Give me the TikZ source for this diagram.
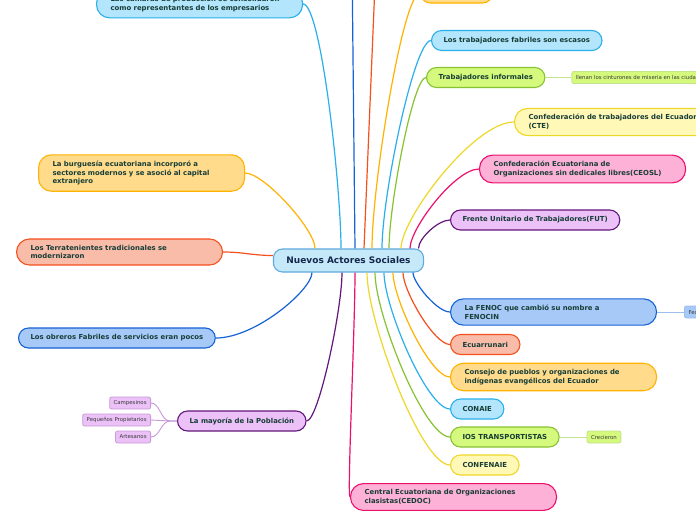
\documentclass[tikz,border=0pt]{standalone}
\usepackage{fontspec}
\setmainfont{DejaVu Sans}
\usetikzlibrary{positioning}

\definecolor{ink}{HTML}{173D36}
\definecolor{leafink}{HTML}{3B3B3B}
\definecolor{hubink}{HTML}{14284B}
\definecolor{hubfill}{HTML}{C6E9FA}
\definecolor{hubline}{HTML}{5EAADD}
\definecolor{skyfill}{HTML}{B3E5FC}
\definecolor{skyline}{HTML}{29B0EC}
\definecolor{bluefill}{HTML}{A7C9F8}
\definecolor{blueline}{HTML}{1562D6}
\definecolor{orangefill}{HTML}{FFDB8B}
\definecolor{orangeline}{HTML}{FFB300}
\definecolor{redfill}{HTML}{F8BCA9}
\definecolor{redline}{HTML}{F4511E}
\definecolor{greenfill}{HTML}{D5F97C}
\definecolor{greenline}{HTML}{86C232}
\definecolor{yellowfill}{HTML}{FFF8B6}
\definecolor{yellowline}{HTML}{EFD728}
\definecolor{pinkfill}{HTML}{FDB1D6}
\definecolor{pinkline}{HTML}{EC0F6E}
\definecolor{purplefill}{HTML}{EBC1F8}
\definecolor{purpleline}{HTML}{63177A}
\definecolor{purpletwig}{HTML}{C79BD7}
\definecolor{greentwig}{HTML}{C3E38C}
\definecolor{bluetwig}{HTML}{9CBDEF}

\tikzstyle{hub} = [rectangle, draw=hubline, fill=hubfill, line width=1.1pt, rounded corners=9pt, text=hubink, font=\bfseries\fontsize{9}{11}\selectfont, minimum height=23pt, inner xsep=13pt]
\tikzstyle{topic} = [rectangle, draw, line width=1.1pt, rounded corners=10pt, text=ink, font=\bfseries\fontsize{6.9}{8.7}\selectfont, minimum height=20pt, inner xsep=12pt, anchor=west]
\tikzstyle{longtopic} = [topic, text width=178pt, align=left, inner xsep=14pt, inner ysep=6pt, rounded corners=13pt]
\tikzstyle{leaf} = [rectangle, draw, line width=0.8pt, rounded corners=2pt, text=leafink, font=\fontsize{5.4}{6.5}\selectfont, minimum height=12pt, inner xsep=4pt, inner ysep=1pt]
\tikzstyle{link} = [line width=1.2pt]
\tikzstyle{twig} = [line width=0.9pt]
\tikzstyle{skybox} = [fill=skyfill, draw=skyline]
\tikzstyle{bluebox} = [fill=bluefill, draw=blueline]
\tikzstyle{orangebox} = [fill=orangefill, draw=orangeline]
\tikzstyle{redbox} = [fill=redfill, draw=redline]
\tikzstyle{greenbox} = [fill=greenfill, draw=greenline]
\tikzstyle{yellowbox} = [fill=yellowfill, draw=yellowline]
\tikzstyle{pinkbox} = [fill=pinkfill, draw=pinkline]
\tikzstyle{purplebox} = [fill=purplefill, draw=purpleline]
\tikzstyle{purpleleaf} = [fill=purplefill, draw=purpletwig]
\tikzstyle{greenleaf} = [fill=greenfill, draw=greentwig]
\tikzstyle{blueleaf} = [fill=bluefill, draw=bluetwig]

\begin{document}
\begin{tikzpicture}[x=1pt, y=-1pt, node distance=26pt]

\useasboundingbox (0,0) rectangle (696,520);

\fill [white] (0,0) rectangle (696,520);

\clip (0,0) rectangle (696,520);

\node [hub] (hub) at (348.5,260.5) {Nuevos Actores Sociales};

\node [longtopic, skybox] (camaras) at (96,4) {Las cámaras de producción se consolidaron\\como representantes de los empresarios};

\node [topic, orangebox, minimum width=72pt] (topnode) at (420,-7) {};

\coordinate (upblue) at (352,-40);

\coordinate (upred) at (376,-40);

\node [topic, skybox] (fabriles) at (431,40.5) {Los trabajadores fabriles son escasos};

\node [topic, greenbox] (informales) at (426,77.5) {Trabajadores informales};

\node [leaf, greenleaf, right=26pt of informales] (llenan) {llenan los cinturones de miseria en las ciudades};

\node [longtopic, yellowbox] (cte) at (514,122) {Confederación de trabajadores del Ecuador\\(CTE)};

\node [longtopic, pinkbox] (ceosl) at (479,169) {Confederación Ecuatoriana de\\Organizaciones sin dedicales libres(CEOSL)};

\node [topic, purplebox] (fut) at (450,220) {Frente Unitario de Trabajadores(FUT)};

\node [longtopic, orangebox] (burguesia) at (38,173) {La burguesía ecuatoriana incorporó a\\sectores modernos y se asoció al capital\\extranjero};

\node [longtopic, redbox] (terratenientes) at (16,252) {Los Terratenientes tradicionales se\\modernizaron};

\node [topic, bluebox] (obreros) at (18,338) {Los obreros Fabriles de servicios eran pocos};

\node [topic, purplebox] (mayoria) at (177,421) {La mayoría de la Población};

\node [leaf, purpleleaf, left=26pt of mayoria, yshift=18pt] (campesinos) {Campesinos};

\node [leaf, purpleleaf, left=26pt of mayoria, yshift=1pt] (propietarios) {Pequeños Propietarios};

\node [leaf, purpleleaf, left=26pt of mayoria, yshift=-16pt] (artesanos) {Artesanos};

\node [longtopic, bluebox] (fenoc) at (450,312) {La FENOC que cambió su nombre a\\FENOCIN};

\node [leaf, blueleaf, right=27pt of fenoc] (federacion) {Federación};

\node [topic, redbox] (ecuarrunari) at (450,344.5) {Ecuarrunari};

\node [longtopic, orangebox] (consejo) at (450,377) {Consejo de pueblos y organizaciones de\\indígenas evangélicos del Ecuador};

\node [topic, skybox] (conaie) at (450,409) {CONAIE};

\node [topic, greenbox] (transportistas) at (450,437) {IOS TRANSPORTISTAS};

\node [leaf, greenleaf, right=27pt of transportistas] (crecieron) {Crecieron};

\node [topic, yellowbox] (confenaie) at (450,465) {CONFENAIE};

\node [longtopic, pinkbox] (cedoc) at (350,497) {Central Ecuatoriana de Organizaciones\\clasistas(CEDOC)};

\draw [link, draw=skyline] ([xshift=-7.5pt]hub.north) .. controls +(0,-61) and +(18,0) .. (camaras.east);

\draw [link, draw=blueline] ([xshift=6.5pt]hub.north) -- (upblue);

\draw [link, draw=redline] ([xshift=15.5pt]hub.north) -- (upred);

\draw [link, draw=orangeline] ([xshift=23.5pt]hub.north) .. controls +(0,-64) and +(-17,0) .. (topnode.west);

\draw [link, draw=skyline] ([xshift=33.5pt]hub.north) .. controls +(0,-52) and +(-17,0) .. (fabriles.west);

\draw [link, draw=greenline] ([xshift=40.5pt]hub.north) .. controls +(0,-43) and +(-13,0) .. (informales.west);

\draw [link, draw=yellowline] ([xshift=52.5pt]hub.north) .. controls +(0,-30) and +(-40,0) .. (cte.west);

\draw [link, draw=pinkline] ([xshift=61.5pt]hub.north) .. controls +(0,-20) and +(-24,0) .. (ceosl.west);

\draw [link, draw=purpleline] ([xshift=70pt]hub.north) .. controls +(0,-10) and +(-12,0) .. (fut.west);

\draw [link, draw=orangeline] ([xshift=-33.5pt]hub.north) .. controls +(0,-19) and +(19,0) .. (burguesia.east);

\draw [link, draw=redline] ([yshift=5pt]hub.west) .. controls +(-20,0) and +(20,0) .. (terratenientes.east);

\draw [link, draw=blueline] ([xshift=-36.5pt]hub.south) .. controls +(0,17) and +(40,0) .. (obreros.east);

\draw [link, draw=purpleline] ([xshift=-6.5pt]hub.south) .. controls +(0,37) and +(12,0) .. (mayoria.east);

\draw [link, draw=pinkline] ([xshift=6.5pt]hub.south) .. controls +(0,56) and +(-3,0) .. (cedoc.west);

\draw [link, draw=yellowline] ([xshift=18.5pt]hub.south) .. controls +(0,48) and +(-29,0) .. (confenaie.west);

\draw [link, draw=greenline] ([xshift=26.5pt]hub.south) .. controls +(0,41) and +(-26,0) .. (transportistas.west);

\draw [link, draw=skyline] ([xshift=35.5pt]hub.south) .. controls +(0,34) and +(-23,0) .. (conaie.west);

\draw [link, draw=orangeline] ([xshift=44.5pt]hub.south) .. controls +(0,26) and +(-20,0) .. (consejo.west);

\draw [link, draw=redline] ([xshift=54.5pt]hub.south) .. controls +(0,18) and +(-16,0) .. (ecuarrunari.west);

\draw [link, draw=blueline] ([xshift=64.5pt]hub.south) .. controls +(0,10) and +(-13,0) .. (fenoc.west);

\draw [twig, draw=greentwig] (informales) -- (llenan);

\draw [twig, draw=bluetwig] (fenoc) -- (federacion);

\draw [twig, draw=greentwig] (transportistas) -- (crecieron);

\draw [twig, draw=purpletwig] (mayoria.west) -- ++(-7,0) .. controls +(-9,0) and +(9,0) .. (campesinos.east);

\draw [twig, draw=purpletwig] (mayoria.west) -- ++(-7,0) .. controls +(-9,0) and +(9,0) .. (propietarios.east);

\draw [twig, draw=purpletwig] (mayoria.west) -- ++(-7,0) .. controls +(-9,0) and +(9,0) .. (artesanos.east);

\end{tikzpicture}
\end{document}
